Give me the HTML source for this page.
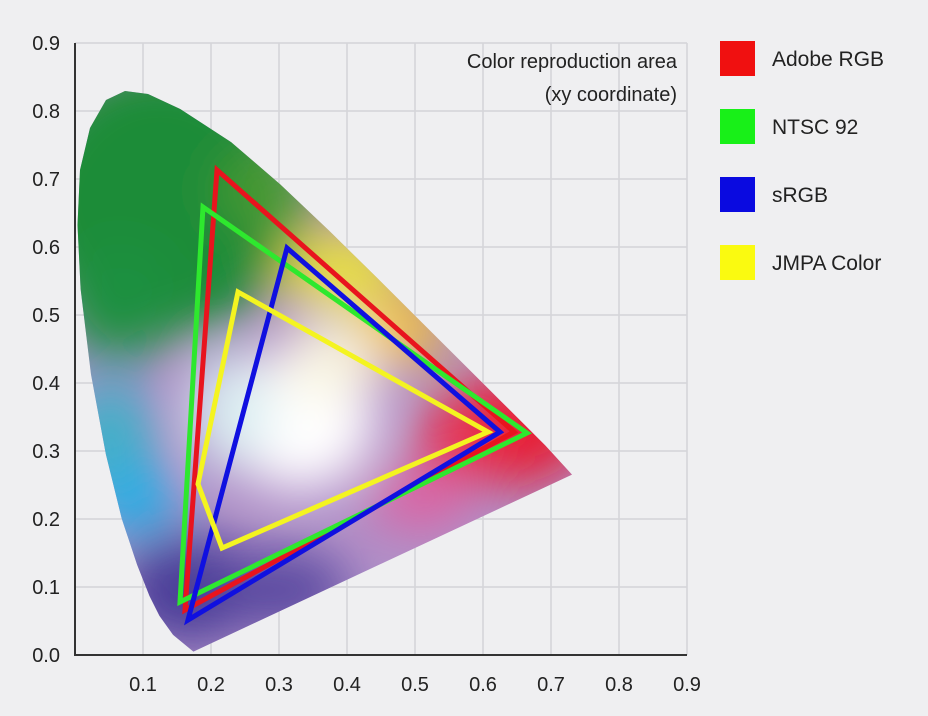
<!DOCTYPE html>
<html><head><meta charset="utf-8"><style>
html,body{margin:0;padding:0;background:#efeff1;}
svg{display:block}
text{font-family:"Liberation Sans",sans-serif;fill:#222}
</style></head><body>
<svg width="928" height="716" viewBox="0 0 928 716" xmlns="http://www.w3.org/2000/svg">
<defs>
<clipPath id="hs">
<path d="M193.4,651.6 L173,634.8 L159.4,615.7 L149.5,596 L137.1,564.8 L121.7,518.5 L105.9,454.4 L91,374.4 L80.6,288.9 L77.5,225 L80,170 L90,128 L106,100 L125,91 L148,94 L180.2,109 L231.1,142.1 L280.1,184.2 L328.7,230.3 L377,277.8 L423.5,324.1 L466.1,366.5 L501.4,401.7 L545.2,445.4 L572,474.6 Z"/>
</clipPath>
<filter id="bl" x="-50%" y="-50%" width="200%" height="200%"><feGaussianBlur stdDeviation="25"/></filter>
</defs>
<rect width="928" height="716" fill="#efeff1"/>
<g stroke="#d4d4d8" stroke-width="1.5">
<line x1="143" y1="43" x2="143" y2="655"/><line x1="211" y1="43" x2="211" y2="655"/><line x1="279" y1="43" x2="279" y2="655"/><line x1="347" y1="43" x2="347" y2="655"/><line x1="415" y1="43" x2="415" y2="655"/><line x1="483" y1="43" x2="483" y2="655"/><line x1="551" y1="43" x2="551" y2="655"/><line x1="619" y1="43" x2="619" y2="655"/><line x1="687" y1="43" x2="687" y2="655"/>
<line x1="75" y1="43" x2="687" y2="43"/><line x1="75" y1="111" x2="687" y2="111"/><line x1="75" y1="179" x2="687" y2="179"/><line x1="75" y1="247" x2="687" y2="247"/><line x1="75" y1="315" x2="687" y2="315"/><line x1="75" y1="383" x2="687" y2="383"/><line x1="75" y1="451" x2="687" y2="451"/><line x1="75" y1="519" x2="687" y2="519"/><line x1="75" y1="587" x2="687" y2="587"/>
</g>
<g clip-path="url(#hs)">
<rect x="60" y="80" width="530" height="590" fill="#b090c8"/>
<g filter="url(#bl)">
<ellipse cx="160" cy="200" rx="140" ry="140" fill="#1c8c38"/>
<ellipse cx="120" cy="300" rx="60" ry="60" fill="#1f9040"/>
<ellipse cx="270" cy="190" rx="50" ry="40" fill="#4a9a30"/>
<ellipse cx="340" cy="270" rx="60" ry="40" fill="#e8e040"/>
<ellipse cx="400" cy="330" rx="45" ry="35" fill="#f2c030"/>
<ellipse cx="110" cy="440" rx="45" ry="60" fill="#40b0c8"/>
<ellipse cx="135" cy="500" rx="40" ry="35" fill="#1ab0e8"/>
<ellipse cx="190" cy="590" rx="70" ry="55" fill="#4a3c98"/>
<ellipse cx="280" cy="590" rx="70" ry="40" fill="#5a4aa0"/>
<ellipse cx="510" cy="430" rx="80" ry="55" fill="#e81c30"/>
<ellipse cx="460" cy="440" rx="45" ry="35" fill="#e83050"/>
<ellipse cx="420" cy="500" rx="50" ry="28" fill="#e060a0"/>
<ellipse cx="300" cy="420" rx="75" ry="70" fill="#ffffff"/>
<ellipse cx="330" cy="360" rx="50" ry="40" fill="#f8f4e0"/>
<ellipse cx="230" cy="410" rx="40" ry="60" fill="#d8ecf0"/>
</g>
</g>
<polyline points="75,43 75,655 687,655" fill="none" stroke="#333" stroke-width="2"/>
<g fill="none" stroke-width="5" stroke-linejoin="miter">
<polygon points="217,170 514,432 185,610" stroke="#e8141e"/>
<polygon points="203,207 527,433 180,602" stroke="#2ee82e"/>
<polygon points="287,248 500,432 188,620" stroke="#1010e0"/>
<polygon points="238,292 488,432 222,548 198,484" stroke="#f4f420"/>
</g>
<g font-size="20" text-anchor="end">
<text x="60" y="50">0.9</text><text x="60" y="118">0.8</text><text x="60" y="186">0.7</text><text x="60" y="254">0.6</text><text x="60" y="322">0.5</text><text x="60" y="390">0.4</text><text x="60" y="458">0.3</text><text x="60" y="526">0.2</text><text x="60" y="594">0.1</text><text x="60" y="662">0.0</text>
</g>
<g font-size="20" text-anchor="middle">
<text x="143" y="691">0.1</text><text x="211" y="691">0.2</text><text x="279" y="691">0.3</text><text x="347" y="691">0.4</text><text x="415" y="691">0.5</text><text x="483" y="691">0.6</text><text x="551" y="691">0.7</text><text x="619" y="691">0.8</text><text x="687" y="691">0.9</text>
</g>
<g font-size="20" text-anchor="end">
<text x="677" y="68">Color reproduction area</text>
<text x="677" y="101">(xy coordinate)</text>
</g>
<rect x="720" y="41" width="35" height="35" fill="#f01010"/>
<rect x="720" y="109" width="35" height="35" fill="#18f018"/>
<rect x="720" y="177" width="35" height="35" fill="#0a0ae0"/>
<rect x="720" y="245" width="35" height="35" fill="#fafa10"/>
<g font-size="21">
<text x="772" y="66">Adobe RGB</text>
<text x="772" y="134">NTSC 92</text>
<text x="772" y="202">sRGB</text>
<text x="772" y="270">JMPA Color</text>
</g>
</svg>
</body></html>
